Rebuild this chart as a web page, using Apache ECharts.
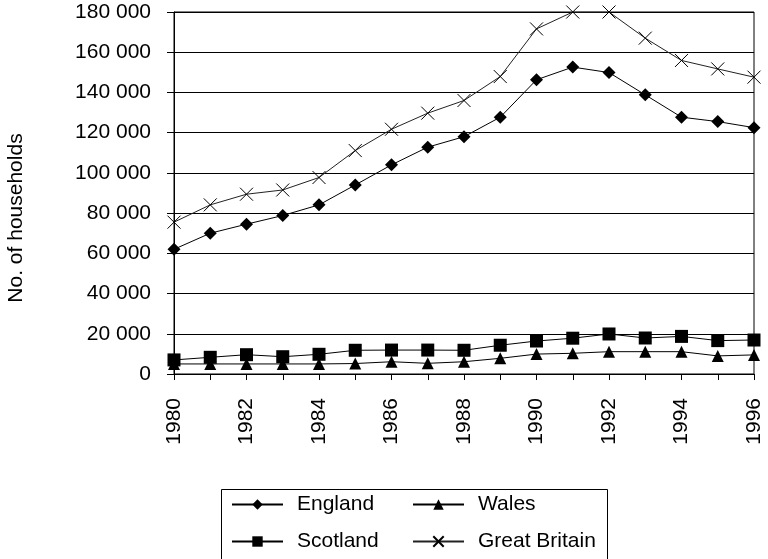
<!DOCTYPE html>
<html>
<head>
<meta charset="utf-8">
<script src="https://cdn.jsdelivr.net/npm/echarts@6/dist/echarts.min.js"></script>
<style>
  html, body { margin: 0; padding: 0; background: #fff; }
  #chart { width: 768px; height: 559px; }
</style>
</head>
<body>
<div id="chart"></div>
<script>
// Homeless households accepted, by country, 1980–1996
const years = ['1980','1981','1982','1983','1984','1985','1986','1987','1988',
               '1989','1990','1991','1992','1993','1994','1995','1996'];
const england = [62000, 70000, 74500, 78800, 84100, 94000, 104000, 112800, 118000,
                 127700, 146300, 152600, 149900, 138800, 127700, 125500, 122500];
const scotland = [7000, 8300, 9600, 8600, 9800, 11800, 11900, 11900, 11800,
                  14300, 16400, 17800, 19900, 17900, 18700, 16600, 16900];
const wales = [5000, 5000, 5000, 5000, 5000, 5200, 6100, 5300, 6100,
               7800, 9900, 10300, 11100, 11100, 11100, 9000, 9500];
const greatBritain = [75500, 84100, 89400, 91500, 97700, 111100, 121700, 129700, 136000,
                      147900, 171600, 180000, 180000, 167000, 155900, 151700, 147600];
const yTicks = { min: 0, max: 180000, interval: 20000 };

const FONT = '"Liberation Sans", Arial, sans-serif';
const FS = 21;
const crossPath = 'path://M0,0L10,10M10,0L0,10';

const chart = echarts.init(document.getElementById('chart'), null, { renderer: 'canvas' });

function lineSeries(name, data, symbol, size, extra) {
  return Object.assign({
    name: name,
    type: 'line',
    data: data,
    symbol: symbol,
    symbolSize: size,
    showAllSymbol: true,
    lineStyle: { color: '#000', width: 1 },
    itemStyle: { color: '#000', borderColor: '#000', borderWidth: 0 },
    emphasis: { disabled: true },
    animation: false,
    z: 3
  }, extra || {});
}

function legendBlock(left, names) {
  return {
    orient: 'vertical', left: left, top: 494, padding: 0,
    itemWidth: 51, itemHeight: 13, itemGap: 16,
    data: names,
    textStyle: { color: '#000', fontSize: FS, fontFamily: FONT, lineHeight: 21, padding: [0, 0, 0, 9] },
    selectedMode: false
  };
}

chart.setOption({
  backgroundColor: '#fff',
  animation: false,
  grid: { left: 174, right: 14, top: 12, bottom: 185, show: true, borderColor: '#000', borderWidth: 1 },
  xAxis: {
    type: 'category',
    data: years,
    boundaryGap: false,
    axisLine: { lineStyle: { color: '#000', width: 1 } },
    axisTick: { show: true, interval: 0, length: 6, lineStyle: { color: '#000' } },
    axisLabel: {
      interval: 1, rotate: 90, color: '#000', fontSize: FS, fontFamily: FONT, margin: 24
    },
    splitLine: { show: false }
  },
  yAxis: {
    type: 'value',
    min: yTicks.min, max: yTicks.max, interval: yTicks.interval,
    axisLine: { show: true, lineStyle: { color: '#000', width: 1 } },
    axisTick: { show: true, length: 7, lineStyle: { color: '#000' } },
    axisLabel: {
      color: '#000', fontSize: FS, fontFamily: FONT, margin: 23,
      formatter: v => String(v).replace(/\B(?=(\d{3})+(?!\d))/g, ' ')
    },
    splitLine: { show: true, lineStyle: { color: '#000', width: 1 } }
  },
  legend: [
    legendBlock(231, ['England', 'Scotland']),
    legendBlock(412, ['Wales', 'Great Britain'])
  ],
  graphic: [
    {
      type: 'text', silent: true,
      x: 16, y: 218, rotation: Math.PI / 2,
      style: {
        text: 'No. of households', fill: '#000', fontSize: FS, fontFamily: FONT,
        align: 'center', verticalAlign: 'middle'
      }
    },
    {
      type: 'rect', left: 219, top: 487, silent: true,
      shape: { width: 386, height: 70 },
      style: { fill: 'none', stroke: '#000', lineWidth: 1 }
    }
  ],
  series: [
    lineSeries('England', england, 'diamond', 13),
    lineSeries('Scotland', scotland, 'rect', 13),
    lineSeries('Wales', wales, 'triangle', 12),
    lineSeries('Great Britain', greatBritain, crossPath, 13, {
      lineStyle: { color: '#222', width: 1 },
      itemStyle: { color: 'none', borderColor: '#000', borderWidth: 1 }
    })
  ]
});
</script>
</body>
</html>
